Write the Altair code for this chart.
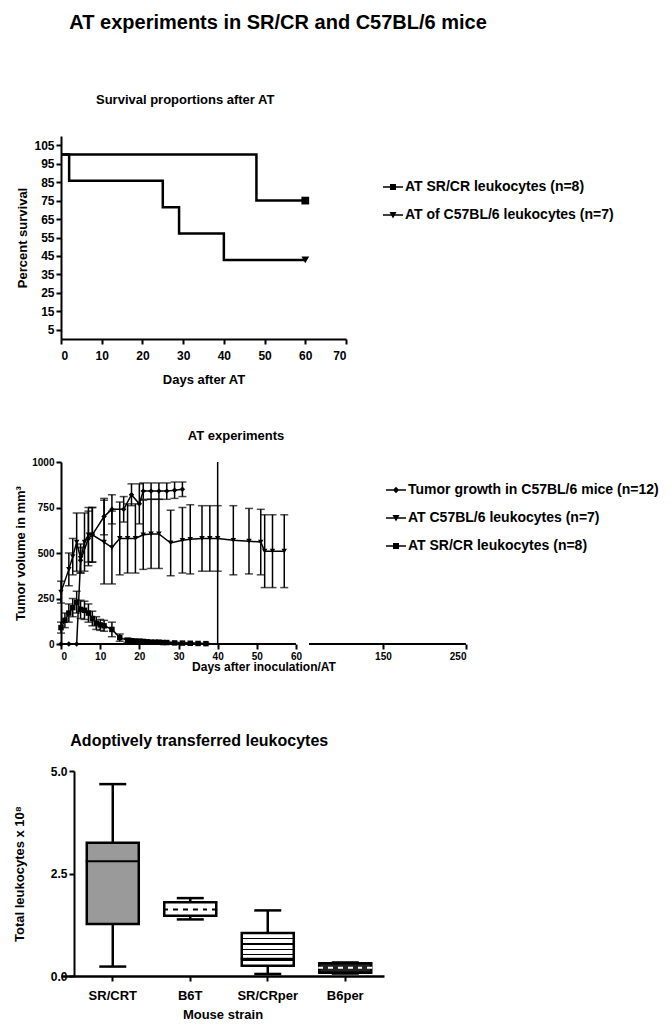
import altair as alt
import pandas as pd

FONT = "Liberation Sans, Arial"

# ---------------- Panel 1: survival ----------------
surv_names = ["AT SR/CR leukocytes (n=8)", "AT of C57BL/6 leukocytes (n=7)"]
srcr_days = [0, 48, 60]
srcr_pct = [100, 75, 75]
b6_days = [0, 2, 25, 29, 40, 60]
b6_pct = [100, 85.71, 71.43, 57.14, 42.86, 42.86]
surv_x_ticks = [0, 10, 20, 30, 40, 50, 60, 70]
surv_y_ticks = [5, 15, 25, 35, 45, 55, 65, 75, 85, 95, 105]

# ---------------- Panel 2: tumour volume ----------------
tumor_names = ["Tumor growth in C57BL/6 mice (n=12)", "AT C57BL/6 leukocytes (n=7)", "AT SR/CR leukocytes (n=8)"]
tg_days = [0, 2, 4, 5, 7, 8, 11, 13, 16, 18, 20, 21, 23, 25, 27, 29, 31]
tg_vol = [0, 0, 0, 460, 580, 600, 700, 740, 740, 820, 770, 840, 840, 840, 840, 845, 850]
tg_sem = [0, 0, 0, 70, 150, 150, 100, 80, 70, 60, 110, 45, 45, 45, 45, 45, 40]
b6_at_days = [0, 2, 3, 4, 5, 6, 7, 8, 11, 13, 15, 17, 19, 21, 23, 25, 28, 31, 33, 36, 38, 40, 44, 48, 51, 52, 54, 57]
b6_at_vol = [285, 410, 480, 560, 470, 560, 600, 600, 560, 530, 580, 580, 580, 600, 605, 605, 555, 570, 575, 580, 580, 580, 570, 565, 560, 510, 510, 510]
b6_at_sem = [60, 90, 100, 160, 80, 160, 150, 150, 230, 200, 200, 190, 190, 190, 190, 190, 180, 180, 190, 180, 180, 180, 190, 180, 180, 200, 200, 200]
sr_at_days = [0, 1, 2, 3, 4, 5, 6, 7, 8, 9, 10, 11, 13, 15, 17, 18, 19, 20, 21, 22, 23, 24, 25, 26, 27, 29, 31, 33, 35, 37]
sr_at_vol = [90, 130, 170, 200, 230, 190, 185, 170, 140, 115, 105, 100, 80, 35, 20, 18, 15, 15, 14, 12, 10, 10, 10, 8, 8, 6, 5, 4, 3, 2]
sr_at_sem = [30, 40, 50, 50, 60, 50, 50, 50, 40, 35, 30, 30, 40, 20, 12, 10, 10, 10, 8, 8, 6, 6, 6, 5, 5, 4, 3, 3, 2, 2]
tumor_x_ticks = [0, 10, 20, 30, 40, 50, 60, 150, 250]
tumor_y_ticks = [0, 250, 500, 750, 1000]
marker_day = [40]
axis_seg_start = [0, 61]
axis_seg_end = [60, 250]

# ---------------- Panel 3: box plots ----------------
strains = ["SR/CRT", "B6T", "SR/CRper", "B6per"]
box_min = [0.23, 1.38, 0.05, 0.06]
box_q1 = [1.27, 1.47, 0.25, 0.08]
box_med = [2.8, 1.62, 0.42, 0.2]
box_q3 = [3.25, 1.8, 1.05, 0.31]
box_max = [4.68, 1.9, 1.6, 0.33]

# legend symbols: a short line (thin filled bar) with the marker on it
LINE = "M-1,-0.075L1,-0.075L1,0.075L-1,0.075Z"
LINE_SQUARE = LINE + "M-0.3,-0.3L0.3,-0.3L0.3,0.3L-0.3,0.3Z"
LINE_TRI = LINE + "M-0.35,-0.3L0.35,-0.3L0,0.35Z"
LINE_DIAMOND = LINE + "M0,-0.32L0.32,0L0,0.32L-0.32,0Z"


def legend(x, y):
    return alt.Legend(title=None, orient="none", legendX=x, legendY=y,
                      symbolSize=400, symbolStrokeWidth=0,
                      symbolFillColor="black", symbolStrokeColor="black", symbolOpacity=1,
                      labelFont=FONT, labelFontSize=14, labelFontWeight="bold",
                      labelColor="black", rowPadding=11, labelOffset=2, labelLimit=400)


# ---- panel 1 build
surv_df = pd.DataFrame({
    "day": srcr_days + b6_days,
    "pct": srcr_pct + b6_pct,
    "series": [surv_names[0]] * len(srcr_days) + [surv_names[1]] * len(b6_days),
    "order": list(range(len(srcr_days))) + list(range(len(b6_days))),
    "last": [i == len(srcr_days) - 1 for i in range(len(srcr_days))] + [i == len(b6_days) - 1 for i in range(len(b6_days))],
})
x1 = alt.X("day:Q", scale=alt.Scale(domain=[0, 70], nice=False, zero=False),
           axis=alt.Axis(values=surv_x_ticks, title="Days after AT", labelFontSize=12, titleFontSize=13,
                         labelPadding=6, titlePadding=12))
y1 = alt.Y("pct:Q", scale=alt.Scale(domain=[0, 110], nice=False),
           axis=alt.Axis(values=surv_y_ticks, title="Percent survival", labelFontSize=12, titleFontSize=13))
base1 = alt.Chart(surv_df)
lines1 = base1.mark_line(interpolate="step-after", color="black", strokeWidth=2.5).encode(
    x=x1, y=y1, detail="series:N", order="order:Q")
pts1 = base1.transform_filter("datum.last").mark_point(filled=True, color="black", size=60, opacity=1).encode(
    x=x1, y=y1, shape=alt.Shape("series:N", scale=alt.Scale(domain=surv_names, range=["square", "triangle-down"]), legend=None))
leg1 = base1.transform_filter("false").mark_point(filled=True, color="black", size=400, opacity=1).encode(
    shape=alt.Shape("series:N", scale=alt.Scale(domain=surv_names, range=[LINE_SQUARE, LINE_TRI]), legend=legend(322, 41)))
panel1 = alt.layer(lines1, pts1, leg1).resolve_scale(shape="independent").properties(
    width=285, height=203,
    title=alt.TitleParams("Survival proportions after AT", font=FONT, fontSize=13, fontWeight="bold",
                          anchor="start", dx=79, offset=29))

# ---- panel 2 build
rows = []
for name, ds, vs, ss in [(tumor_names[0], tg_days, tg_vol, tg_sem),
                         (tumor_names[1], b6_at_days, b6_at_vol, b6_at_sem),
                         (tumor_names[2], sr_at_days, sr_at_vol, sr_at_sem)]:
    for d, v, s in zip(ds, vs, ss):
        rows.append({"day": d, "vol": v, "lo": max(v - s, 0), "hi": v + s, "sem": s, "series": name})
tum_df = pd.DataFrame(rows)
xs2 = alt.Scale(domain=[0, 60, 61, 250], range=[0, 235, 248, 405], nice=False, zero=False)
x2 = alt.X("day:Q", scale=xs2,
           axis=alt.Axis(values=tumor_x_ticks, domain=False, title="Days after inoculation/AT",
                         labelFontSize=10, titleFontSize=12, titlePadding=0))
ys2 = alt.Scale(domain=[0, 1000], nice=False)
y2 = alt.Y("vol:Q", scale=ys2, axis=alt.Axis(values=tumor_y_ticks, format="d", title="Tumor volume in mm³",
                                              labelFontSize=10, titleFontSize=13))
base2 = alt.Chart(tum_df)
err2 = base2.transform_filter("datum.sem > 0").mark_rule(color="black", strokeWidth=1.5).encode(
    x=x2, y=alt.Y("lo:Q", scale=ys2), y2="hi:Q")
caplo = base2.transform_filter("datum.sem > 0").mark_tick(color="black", orient="horizontal", size=8, thickness=1.5).encode(
    x=x2, y=alt.Y("lo:Q", scale=ys2))
caphi = base2.transform_filter("datum.sem > 0").mark_tick(color="black", orient="horizontal", size=8, thickness=1.5).encode(
    x=x2, y=alt.Y("hi:Q", scale=ys2))
lines2 = base2.mark_line(color="black", strokeWidth=1.5).encode(x=x2, y=y2, detail="series:N")
pts2 = base2.mark_point(filled=True, color="black", size=30, opacity=1).encode(
    x=x2, y=y2, shape=alt.Shape("series:N", scale=alt.Scale(domain=tumor_names, range=["diamond", "triangle-down", "square"]), legend=None))
vline = alt.Chart(pd.DataFrame({"day": marker_day})).mark_rule(color="black", strokeWidth=1.5).encode(
    x=x2, y=alt.datum(0), y2=alt.datum(1000))
axseg = alt.Chart(pd.DataFrame({"day": axis_seg_start, "end": axis_seg_end})).mark_rule(color="black", strokeWidth=2).encode(
    x=x2, x2="end:Q", y=alt.datum(0))
leg2 = base2.transform_filter("false").mark_point(filled=True, color="black", size=400, opacity=1).encode(
    shape=alt.Shape("series:N", scale=alt.Scale(domain=tumor_names, range=[LINE_DIAMOND, LINE_TRI, LINE_SQUARE]), legend=legend(325, 18)))
panel2 = alt.layer(err2, caplo, caphi, lines2, pts2, vline, axseg, leg2).resolve_scale(shape="independent").properties(
    width=405, height=182,
    title=alt.TitleParams("AT experiments", font=FONT, fontSize=13, fontWeight="bold",
                          anchor="start", dx=173, offset=14))

# ---- panel 3 build
box_df = pd.DataFrame({"strain": strains, "mn": box_min, "q1": box_q1, "med": box_med, "q3": box_q3, "mx": box_max})


def grad_h(stripes):
    stops = [alt.GradientStop(color="white", offset=0)]
    for c in stripes:
        stops += [alt.GradientStop(color="white", offset=c - 0.025), alt.GradientStop(color="black", offset=c - 0.025),
                  alt.GradientStop(color="black", offset=c + 0.025), alt.GradientStop(color="white", offset=c + 0.025)]
    stops.append(alt.GradientStop(color="white", offset=1))
    return alt.LinearGradient(gradient="linear", stops=stops, x1=0, x2=0, y1=0, y2=1)


def grad_dash(c1, c2, n=9):
    stops = []
    for i in range(n):
        a, b = i / n, (i + 1) / n
        col = c1 if i % 2 == 0 else c2
        stops += [alt.GradientStop(color=col, offset=a), alt.GradientStop(color=col, offset=b)]
    return alt.LinearGradient(gradient="linear", stops=stops, x1=0, x2=1, y1=0, y2=0)


box_fill = ["#9a9a9a", "white", grad_h([0.17, 0.34, 0.5, 0.66, 0.83]), "#222222"]
med_fill = ["black", grad_dash("black", "white", 11), "black", grad_dash("white", "#222222", 11)]

x3 = alt.X("strain:N", sort=strains, scale=alt.Scale(domain=strains, paddingInner=0, paddingOuter=0.084, align=1),
           axis=alt.Axis(title="Mouse strain", labelAngle=0, labelFontSize=13, titleFontSize=13, domainWidth=2.5,
                         labelPadding=8, titlePadding=6))
ys3 = alt.Scale(domain=[0, 5], nice=False)
y3 = alt.Y("mn:Q", scale=ys3, axis=alt.Axis(values=[0, 2.5, 5], format=".1f", title="Total leukocytes x 10⁸",
                                             labelFontSize=12, titleFontSize=13, offset=-13, titlePadding=24))
base3 = alt.Chart(box_df)
layers3 = [base3.mark_rule(color="black", strokeWidth=2.5).encode(x=x3, y=y3, y2="mx:Q")]
for s, f, mf in zip(strains, box_fill, med_fill):
    sub = base3.transform_filter(alt.datum.strain == s)
    layers3.append(sub.mark_bar(size=52, fill=f, stroke="black", strokeWidth=2.5, opacity=1).encode(
        x=x3, y=alt.Y("q1:Q", scale=ys3), y2="q3:Q"))
    layers3.append(sub.mark_tick(size=54, thickness=2, color=mf, opacity=1).encode(x=x3, y=alt.Y("med:Q", scale=ys3)))
layers3.append(base3.mark_tick(size=27, thickness=2.5, color="black", opacity=1).encode(x=x3, y=alt.Y("mn:Q", scale=ys3)))
layers3.append(base3.mark_tick(size=27, thickness=2.5, color="black", opacity=1).encode(x=x3, y=alt.Y("mx:Q", scale=ys3)))
panel3 = alt.layer(*layers3).properties(
    width=323, height=205,
    title=alt.TitleParams("Adoptively transferred leukocytes", font=FONT, fontSize=16, fontWeight="bold",
                          anchor="start", dx=57, offset=16))

upper = alt.vconcat(panel1, panel2, spacing=44).resolve_scale(
    x="independent", y="independent", shape="independent").resolve_legend(shape="independent")
chart = alt.vconcat(upper, panel3, spacing=61).resolve_scale(
    x="independent", y="independent", shape="independent").resolve_legend(shape="independent").properties(
    title=alt.TitleParams("AT experiments in SR/CR and C57BL/6 mice", font=FONT, fontSize=20, fontWeight="bold",
                          anchor="start", dx=56, offset=61, color="black")
).configure_axis(
    labelFont=FONT, labelFontWeight="bold", titleFont=FONT, titleFontWeight="bold",
    labelColor="black", titleColor="black", domainColor="black", domainWidth=2,
    tickColor="black", tickWidth=2, tickSize=5, grid=False
).configure_view(stroke=None).configure_title(color="black")

chart.save("out.html", embed_options={"renderer": "svg", "actions": False})
